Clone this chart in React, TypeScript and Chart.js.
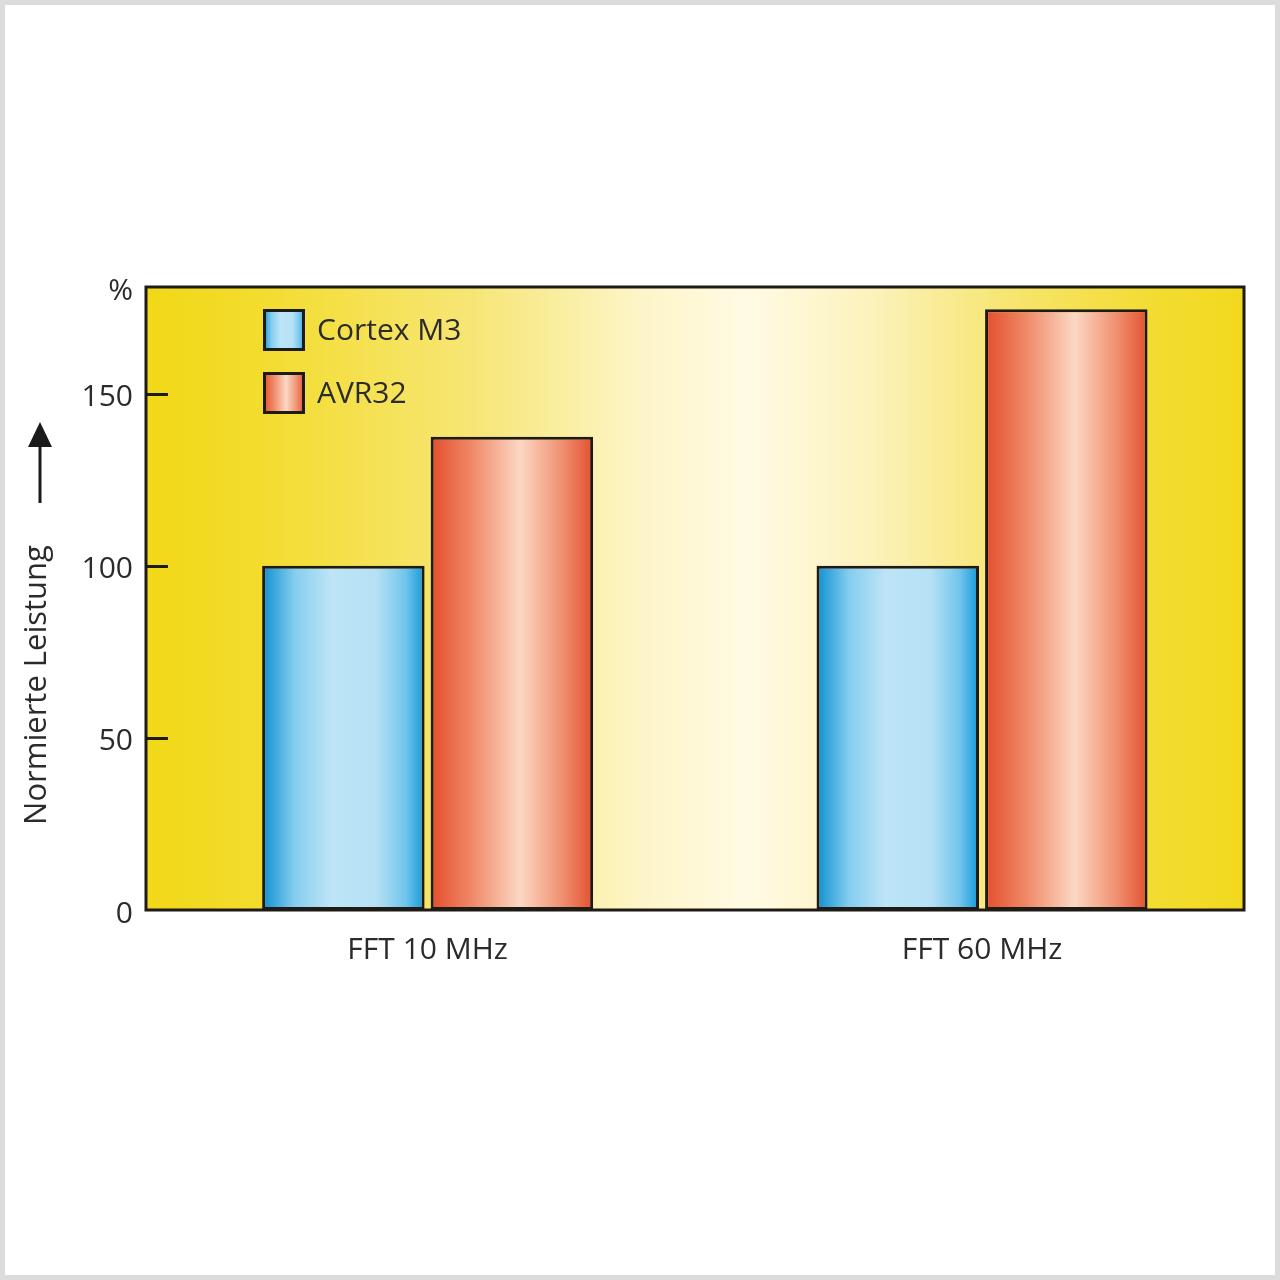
import React, { useEffect, useRef } from "react";
import { Chart, registerables } from "chart.js";

Chart.register(...registerables);

// ---- data ----
const categories = ["FFT 10 MHz", "FFT 60 MHz"];
const seriesNames = ["Cortex M3", "AVR32"];
const cortexM3Values = [100, 100];
const avr32Values = [137.5, 174.5];
const yTickValues = [0, 50, 100, 150];
const yInnerTickValues = [50, 100, 150];
const yMax = 181;
const yTopLabel = "%";
const yAxisTitle = "Normierte Leistung";

// ---- styles ----
const FONT = '"Open Sans", "DejaVu Sans", sans-serif';
const TEXT = "#2b2b2b";
const FRAME = "#1e1a16";

const blueStops: [number, string][] = [
  [0, "#0e90d0"],
  [0.2, "#84cdef"],
  [0.42, "#bde4f7"],
  [0.7, "#b6e1f5"],
  [0.88, "#72c5ec"],
  [1, "#149ad7"],
];
const redStops: [number, string][] = [
  [0, "#e44e2d"],
  [0.25, "#ef8866"],
  [0.55, "#fcd8c4"],
  [0.8, "#f09373"],
  [1, "#e35030"],
];
const bgStops: [number, string][] = [
  [0, "#f1d818"],
  [0.1, "#f3dc2c"],
  [0.3, "#f7e677"],
  [0.45, "#fdf5c8"],
  [0.55, "#fffbe4"],
  [0.66, "#fcf2bc"],
  [0.8, "#f6e468"],
  [0.92, "#f3dc30"],
  [1, "#f2d91e"],
];
const seriesStops = [blueStops, redStops];

function hGradient(ctx: CanvasRenderingContext2D, x0: number, x1: number, stops: [number, string][]) {
  const g = ctx.createLinearGradient(x0, 0, x1, 0);
  stops.forEach(([o, c]) => g.addColorStop(o, c));
  return g;
}

const barFill = (stops: [number, string][], fallback: string) => (c: any) => {
  const el = c.element;
  if (!el || !isFinite(el.x) || !isFinite(el.width)) return fallback;
  return hGradient(c.chart.ctx, el.x - el.width / 2, el.x + el.width / 2, stops);
};

const decorPlugin = {
  id: "decor",
  beforeDraw(chart: any) {
    const { ctx, chartArea: a, width, height } = chart;
    ctx.save();
    ctx.fillStyle = "#ffffff";
    ctx.fillRect(0, 0, width, height);
    ctx.strokeStyle = "#dcdcdc";
    ctx.lineWidth = 5;
    ctx.strokeRect(2.5, 2.5, width - 5, height - 5);
    ctx.fillStyle = hGradient(ctx, a.left, a.right, bgStops);
    ctx.fillRect(a.left, a.top, a.right - a.left, a.bottom - a.top);
    ctx.restore();
  },
  afterDatasetsDraw(chart: any) {
    const { ctx, chartArea: a } = chart;
    const yScale = chart.scales.y;
    ctx.save();
    // inner tick marks
    ctx.strokeStyle = FRAME;
    ctx.lineWidth = 3;
    yInnerTickValues.forEach((v) => {
      const y = Math.round(yScale.getPixelForValue(v)) + 0.5;
      ctx.beginPath();
      ctx.moveTo(a.left, y);
      ctx.lineTo(a.left + 22, y);
      ctx.stroke();
    });
    // frame
    ctx.lineWidth = 3;
    ctx.strokeRect(a.left, a.top, a.right - a.left, a.bottom - a.top);

    // legend inside plot
    const lx = a.left + 117;
    const ly = a.top + 22;
    const size = 42;
    const step = 63;
    chart.data.datasets.forEach((ds: any, i: number) => {
      const y = ly + i * step;
      ctx.fillStyle = hGradient(ctx, lx, lx + size, seriesStops[i]);
      ctx.fillRect(lx, y, size, size);
      ctx.strokeStyle = FRAME;
      ctx.lineWidth = 3;
      ctx.strokeRect(lx + 1.5, y + 1.5, size - 3, size - 3);
      ctx.fillStyle = TEXT;
      ctx.font = `30px ${FONT}`;
      ctx.textAlign = "left";
      ctx.textBaseline = "middle";
      ctx.fillText(ds.label, lx + size + 12, y + size / 2 + 1);
    });

    // y axis title (rotated) and arrow
    const tx = 37;
    const ty = 685;
    ctx.save();
    ctx.translate(tx, ty);
    ctx.rotate(-Math.PI / 2);
    ctx.fillStyle = TEXT;
    ctx.font = `31px ${FONT}`;
    ctx.textAlign = "center";
    ctx.textBaseline = "middle";
    ctx.fillText(yAxisTitle, 0, 0);
    ctx.restore();

    const ax = 40;
    ctx.strokeStyle = "#1a1a1a";
    ctx.lineWidth = 3;
    ctx.beginPath();
    ctx.moveTo(ax, 503);
    ctx.lineTo(ax, 440);
    ctx.stroke();
    ctx.fillStyle = "#1a1a1a";
    ctx.beginPath();
    ctx.moveTo(ax, 422);
    ctx.lineTo(ax - 12, 447);
    ctx.lineTo(ax + 12, 447);
    ctx.closePath();
    ctx.fill();
    ctx.restore();
  },
};

export default function App() {
  const canvasRef = useRef<HTMLCanvasElement | null>(null);

  useEffect(() => {
    const canvas = canvasRef.current;
    if (!canvas) return;
    const chart = new Chart(canvas, {
      type: "bar",
      data: {
        datasets: [
          {
            label: seriesNames[0],
            data: categories.map((_, i) => ({ x: i, y: cortexM3Values[i] })),
            backgroundColor: barFill(blueStops, "#9bd6f2"),
            borderColor: FRAME,
            borderWidth: 3,
            borderSkipped: false,
          },
          {
            label: seriesNames[1],
            data: categories.map((_, i) => ({ x: i, y: avr32Values[i] })),
            backgroundColor: barFill(redStops, "#f0957a"),
            borderColor: FRAME,
            borderWidth: 3,
            borderSkipped: false,
          },
        ],
      },
      options: {
        responsive: false,
        animation: false,
        events: [],
        layout: { padding: { top: 287, right: 36, bottom: 0, left: 0 } },
        datasets: {
          bar: { categoryPercentage: 0.608, barPercentage: 0.964 },
        },
        plugins: {
          legend: { display: false },
          title: { display: false },
          tooltip: { enabled: false },
        },
        scales: {
          x: {
            type: "linear",
            offset: false,
            min: -0.508,
            max: 1.4725,
            grid: { display: false, drawTicks: false, offset: false },
            border: { display: false },
            afterBuildTicks: (scale: any) => {
              scale.ticks = categories.map((_, i) => ({ value: i }));
            },
            afterFit: (scale: any) => {
              scale.height = 370;
            },
            ticks: {
              autoSkip: false,
              maxRotation: 0,
              padding: 22,
              color: TEXT,
              font: { family: FONT, size: 30 },
              callback: (v: any) => categories[Math.round(Number(v))] ?? "",
            },
          },
          y: {
            type: "linear",
            min: 0,
            max: yMax,
            grid: { display: false, drawTicks: false },
            border: { display: false },
            afterBuildTicks: (scale: any) => {
              scale.ticks = [...yTickValues, yMax].map((v) => ({ value: v }));
            },
            afterFit: (scale: any) => {
              scale.width = 146;
            },
            ticks: {
              padding: 13,
              labelOffset: 4,
              color: TEXT,
              font: { family: FONT, size: 30 },
              callback: (v: any) => (Number(v) === yMax ? yTopLabel : String(v)),
            },
          },
        },
      },
      plugins: [decorPlugin],
    } as any);
    chart.update();
    return () => chart.destroy();
  }, []);

  return (
    <div style={{ position: "absolute", left: 0, top: 0, width: 1280, height: 1280 }}>
      <canvas ref={canvasRef} width={1280} height={1280} style={{ display: "block" }} />
    </div>
  );
}
